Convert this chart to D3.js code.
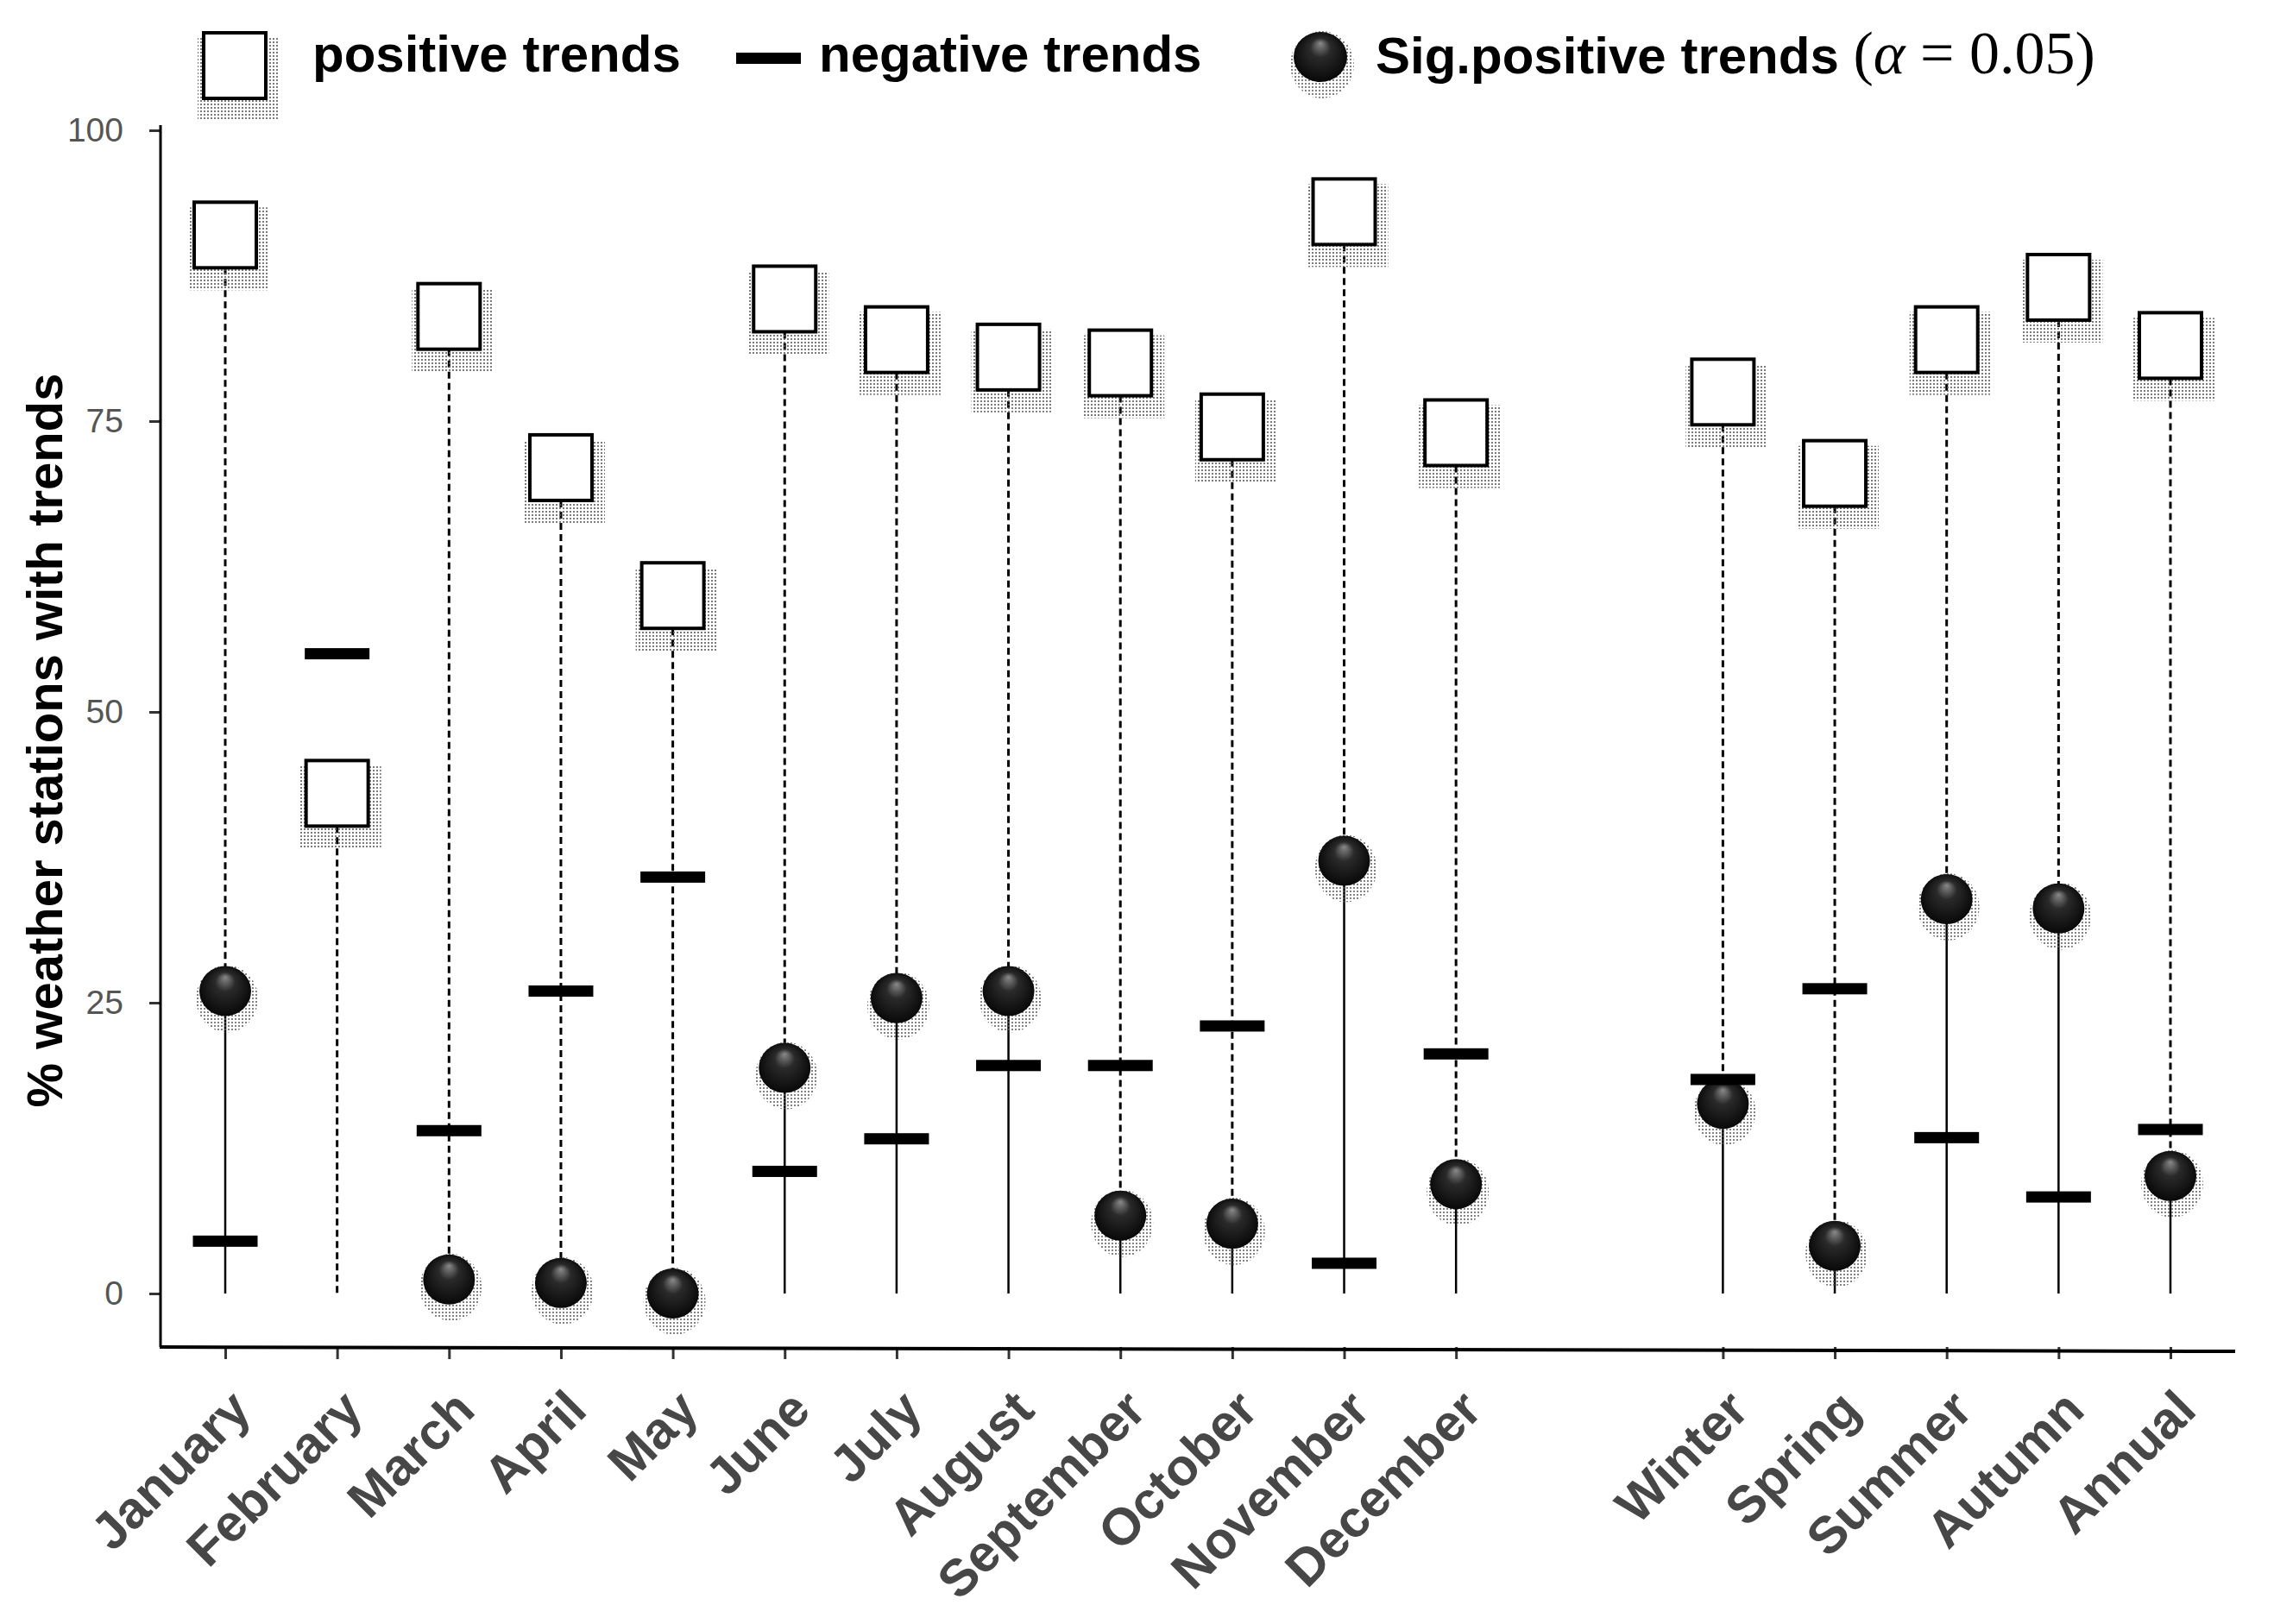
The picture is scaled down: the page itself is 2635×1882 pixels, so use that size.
<!DOCTYPE html>
<html>
<head>
<meta charset="utf-8">
<script src="https://cdn.jsdelivr.net/npm/d3@7"></script>
<style>
  html, body { margin: 0; padding: 0; background: #fff; }
  svg { display: block; }
</style>
</head>
<body>
<div id="chart"></div>
<script>
// Data (% of weather stations)
const categories = ["January", "February", "March", "April", "May", "June", "July", "August",
    "September", "October", "November", "December", "Winter", "Spring", "Summer", "Autumn", "Annual"];
const positiveTrends = [91, 43, 84, 71, 60, 85.5, 82, 80.5, 80, 74.5, 93, 74, 77.5, 70.5, 82, 86.5, 81.5];
const negativeTrends = [4.5, 55, 14, 26, 35.8, 10.5, 13.3, 19.6, 19.6, 23, 2.6, 20.6, 18.4, 26.2, 13.4, 8.3, 14.1];
const sigPositiveTrends = [26, null, 1.2, 0.9, 0, 19.4, 25.4, 26, 6.7, 6, 37.2, 9.4, 16.3, 4.1, 33.9, 33.1, 10.1];
const yTicks = [0, 25, 50, 75, 100];

const width = 2635, height = 1882;
const axisLeftX = 186, axisBottomY = 1561, axisTopY = 145, axisRightX = 2590;
const seasonGap = 1.385; // extra space between months and seasons (in category steps)
const boxW = 72, boxH = 76, dashW = 75, dashH = 13, dotR = 30;

const svg = d3.select("#chart")
    .append("svg")
    .attr("width", width)
    .attr("height", height);

svg.append("rect").attr("width", width).attr("height", height).attr("fill", "#fff");

const defs = svg.append("defs");

// stipple pattern used for the dotted shadows
const pat = defs.append("pattern")
    .attr("id", "stipple")
    .attr("width", 4).attr("height", 4)
    .attr("patternUnits", "userSpaceOnUse");
pat.append("rect").attr("width", 2).attr("height", 2).attr("fill", "#5a5a5a");

const grad = defs.append("radialGradient")
    .attr("id", "ball")
    .attr("cx", "50%").attr("cy", "50%").attr("r", "55%")
    .attr("fx", "50%").attr("fy", "22%");
grad.append("stop").attr("offset", "0%").attr("stop-color", "#8a8a8a");
grad.append("stop").attr("offset", "35%").attr("stop-color", "#2a2a2a");
grad.append("stop").attr("offset", "100%").attr("stop-color", "#050505");

// Scales
const pos = i => i < 12 ? i : i + seasonGap;
const x = d3.scaleLinear()
    .domain([0, pos(categories.length - 1)])
    .range([261, 2515]);
const y = d3.scaleLinear()
    .domain([0, 100])
    .range([1499, 151]);

const data = categories.map((c, i) => ({
    name: c,
    xp: x(pos(i)),
    pos: positiveTrends[i],
    neg: negativeTrends[i],
    sig: sigPositiveTrends[i]
}));

// Y axis
const yAxis = svg.append("g")
    .attr("transform", `translate(${axisLeftX},0)`)
    .call(d3.axisLeft(y).tickValues(yTicks).tickSize(13).tickPadding(30));
yAxis.select(".domain").remove();
yAxis.selectAll(".tick line").attr("stroke", "#333").attr("stroke-width", 3);
yAxis.selectAll(".tick text")
    .attr("fill", "#555")
    .style("font-family", "Liberation Sans, Arial, sans-serif")
    .style("font-size", "39px");

svg.append("line")
    .attr("x1", axisLeftX).attr("x2", axisLeftX)
    .attr("y1", axisTopY).attr("y2", axisBottomY)
    .attr("stroke", "#000").attr("stroke-width", 3);

// X axis
const xAxis = svg.append("g")
    .attr("transform", `translate(0,${axisBottomY})`)
    .call(d3.axisBottom(x)
        .tickValues(categories.map((c, i) => pos(i)))
        .tickFormat((d, i) => categories[i])
        .tickSize(14));
xAxis.select(".domain").remove();
xAxis.selectAll(".tick line").attr("stroke", "#333").attr("stroke-width", 3);
xAxis.selectAll(".tick text")
    .attr("x", 0).attr("y", 0).attr("dy", 0)
    .attr("transform", "translate(32,76) rotate(-45)")
    .attr("text-anchor", "end")
    .attr("fill", "#474747")
    .style("font-family", "Liberation Sans, Arial, sans-serif")
    .style("font-weight", "bold")
    .style("font-size", "60px");

svg.append("line")
    .attr("x1", axisLeftX - 1).attr("x2", axisRightX)
    .attr("y1", axisBottomY).attr("y2", axisBottomY + 5)
    .attr("stroke", "#000").attr("stroke-width", 4);

// Y axis title
svg.append("text")
    .attr("transform", `translate(72,${(axisTopY + axisBottomY) / 2 + 5}) rotate(-90)`)
    .attr("text-anchor", "middle")
    .style("font-family", "Liberation Sans, Arial, sans-serif")
    .style("font-weight", "bold")
    .style("font-size", "58px")
    .text("% weather stations with trends");

// helpers for the marker styles
function drawBox(g, cx, cy) {
    g.append("rect")
        .attr("x", cx - boxW / 2 - 7).attr("y", cy - boxH / 2 + 6)
        .attr("width", boxW + 22).attr("height", boxH + 20)
        .attr("fill", "url(#stipple)").attr("opacity", 0.8);
    g.append("rect")
        .attr("x", cx - boxW / 2).attr("y", cy - boxH / 2)
        .attr("width", boxW).attr("height", boxH)
        .attr("fill", "#fff")
        .attr("stroke", "#000").attr("stroke-width", 4);
}
function drawBall(g, cx, cy, rx, ry) {
    g.append("ellipse")
        .attr("cx", cx + 2).attr("cy", cy + 9)
        .attr("rx", rx + 6).attr("ry", ry + 10)
        .attr("fill", "url(#stipple)").attr("opacity", 0.75);
    g.append("ellipse")
        .attr("cx", cx).attr("cy", cy)
        .attr("rx", rx).attr("ry", ry)
        .attr("fill", "url(#ball)");
}

// Stems: dashed from positive trend down to sig. positive (or zero), solid from sig. down to zero
const marks = svg.append("g");
data.forEach(d => {
    const lower = d.sig == null ? 0 : d.sig;
    marks.append("line")
        .attr("x1", d.xp).attr("x2", d.xp)
        .attr("y1", y(d.pos) + boxH / 2).attr("y2", y(lower))
        .attr("stroke", "#000").attr("stroke-width", 3)
        .attr("stroke-dasharray", "8,5");
    if (d.sig != null) {
        marks.append("line")
            .attr("x1", d.xp).attr("x2", d.xp)
            .attr("y1", y(d.sig)).attr("y2", y(0))
            .attr("stroke", "#000").attr("stroke-width", 2.5);
    }
});

data.forEach(d => drawBox(marks, d.xp, y(d.pos)));
data.filter(d => d.sig != null).forEach(d => drawBall(marks, d.xp, y(d.sig), dotR, dotR - 1));

marks.selectAll("rect.neg")
    .data(data)
    .join("rect")
    .attr("class", "neg")
    .attr("x", d => d.xp - dashW / 2)
    .attr("y", d => y(d.neg) - dashH / 2)
    .attr("width", dashW)
    .attr("height", dashH)
    .attr("fill", "#000");

// Legend
const legend = svg.append("g");
const legendFont = "Liberation Sans, Arial, sans-serif";
const mathFont = "Liberation Serif, DejaVu Serif, serif";
drawBox(legend, 272, 76);
legend.append("text")
    .attr("x", 362).attr("y", 83)
    .style("font-family", legendFont).style("font-weight", "bold").style("font-size", "60px")
    .text("positive trends");

legend.append("rect")
    .attr("x", 853).attr("y", 61).attr("width", dashW).attr("height", dashH)
    .attr("fill", "#000");
legend.append("text")
    .attr("x", 949).attr("y", 83)
    .style("font-family", legendFont).style("font-weight", "bold").style("font-size", "60px")
    .text("negative trends");

drawBall(legend, 1530, 66, 31, 29);
const sigText = legend.append("text")
    .attr("x", 1594).attr("y", 85)
    .style("font-family", legendFont).style("font-weight", "bold").style("font-size", "60px");
sigText.append("tspan").text("Sig.positive trends ");
const mathPart = sigText.append("tspan")
    .style("font-family", mathFont).style("font-weight", "normal").style("font-size", "70px");
mathPart.append("tspan").text("(");
mathPart.append("tspan").style("font-style", "italic").text("α");
mathPart.append("tspan").text(" = 0.05)");
</script>
</body>
</html>
